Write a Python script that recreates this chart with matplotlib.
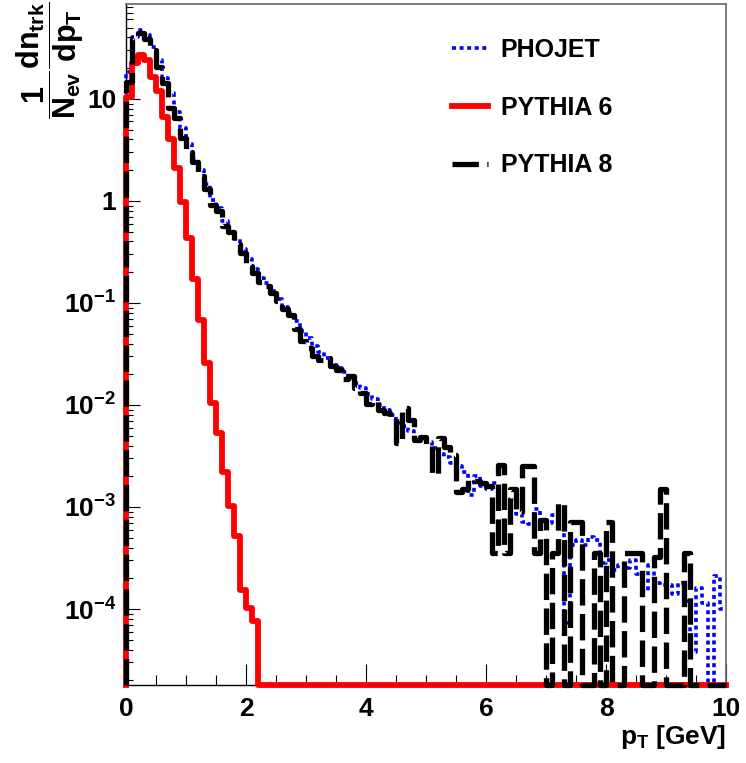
import numpy as np
import matplotlib
matplotlib.use("Agg")
import matplotlib.pyplot as plt
from matplotlib.ticker import NullFormatter, MultipleLocator

plt.rcParams['font.family'] = ['Liberation Sans', 'DejaVu Sans']
plt.rcParams['font.weight'] = 'bold'
plt.rcParams['mathtext.fontset'] = 'custom'
plt.rcParams['mathtext.rm'] = 'Liberation Sans:bold'
plt.rcParams['mathtext.it'] = 'Liberation Sans:bold'
plt.rcParams['mathtext.bf'] = 'Liberation Sans:bold'
plt.rcParams['mathtext.sf'] = 'Liberation Sans:bold'

# 100 bins of 0.1 GeV from 0 to 10
bin_edges = np.linspace(0, 10, 101)

phojet = [
    18.4, 40, 47, 42, 32, 24, 16, 11.5, 7.5, 5.2,
    3.6, 2.6, 2.0, 1.45, 1.02, 0.85, 0.64, 0.52, 0.42, 0.34,
    0.27, 0.215, 0.175, 0.155, 0.13, 0.11, 0.092, 0.079, 0.066, 0.053,
    0.045, 0.038, 0.033, 0.029, 0.026, 0.023, 0.021, 0.0185, 0.0165, 0.0145,
    0.0128, 0.0115, 0.0100, 0.0090, 0.0080, 0.0066, 0.0062, 0.0055, 0.0046, 0.0044,
    0.0043, 0.0038, 0.0033, 0.0031, 0.0027, 0.0025, 0.0022, 0.0013, 0.0020, 0.0016,
    0.0015, 0.0017, 0.0013, 0.0011, 0.0012, 0.00085, 0.00072, 0.00068, 0.00095, 0.00075,
    0.0007, 0.00083, 0.0009, 0.000073, 0.00042, 0.00047, 0.00042, 0.00051, 0.00047, 0.00028,
    0.0003, 0.00024, 0.00027, 0.00025, 0.0003, 0.00022, 0.00015, 0.00027, 0.00018, 0.00017,
    0.00017, 0.00014, 0.00018, 0.00012, 0.000038, 0.00016, 0.000115, 0.0, 0.00021, 0.0001,
]

pythia6 = [
    10.5, 22.5, 27, 24, 16.4, 11.8, 6.7, 4.0, 2.1, 0.98,
    0.43, 0.17, 0.068, 0.026, 0.0105, 0.0053, 0.0022, 0.00102, 0.00052, 0.000153,
    0.000102, 0.000076, 0, 0, 0, 0, 0, 0, 0, 0,
    0, 0, 0, 0, 0, 0, 0, 0, 0, 0,
    0, 0, 0, 0, 0, 0, 0, 0, 0, 0,
    0, 0, 0, 0, 0, 0, 0, 0, 0, 0,
    0, 0, 0, 0, 0, 0, 0, 0, 0, 0,
    0, 0, 0, 0, 0, 0, 0, 0, 0, 0,
    0, 0, 0, 0, 0, 0, 0, 0, 0, 0,
    0, 0, 0, 0, 0, 0, 0, 0, 0, 0,
]

pythia8 = [
    14.7, 39.6, 44.4, 38.7, 30.2, 20.7, 14.3, 8.2, 6.5, 4.15,
    3.0, 2.4, 1.76, 1.31, 0.91, 0.80, 0.57, 0.50, 0.38, 0.31,
    0.23, 0.197, 0.16, 0.146, 0.126, 0.105, 0.087, 0.076, 0.055, 0.042,
    0.036, 0.030, 0.0276, 0.029, 0.024, 0.022, 0.018, 0.019, 0.0145, 0.013,
    0.0102, 0.011, 0.0090, 0.0083, 0.0075, 0.0042, 0.0093, 0.0071, 0.0045, 0.0049,
    0.0041, 0.0021, 0.0047, 0.0039, 0.0032, 0.0014, 0.0015, 0.0019, 0.0018, 0.0017,
    0.0016, 0.00035, 0.0026, 0.00035, 0.0015, 0.0009, 0.0025, 0.0025, 0.00035, 0.00075,
    0, 0.00035, 0.0011, 0, 0.00072, 0.00072, 0, 0, 0.00035, 0,
    0.00072, 0, 0, 0.00035, 0.00035, 0.00035, 0, 0, 0.00032, 0.0015,
    0, 0, 0, 0.00035, 0, 0, 0, 0, 0, 0,
]

labels = ["PHOJET", "PYTHIA 6", "PYTHIA 8"]

ymin, ymax = 1.8e-5, 85


def step_xy(vals):
    # ROOT-like outline: rise from the frame bottom at x=0, empty bins at the bottom
    v = np.asarray(vals, dtype=float)
    v = np.where(v > 0, v, ymin)
    x = np.concatenate([[bin_edges[0]], bin_edges])
    y = np.concatenate([[ymin], v, [v[-1]]])
    return x, y


fig = plt.figure(figsize=(7.46, 7.63), dpi=100)
ax = fig.add_axes([126 / 746, 1 - 685 / 763, 600 / 746, 681 / 763])

x, y = step_xy(phojet)
ax.plot(x, y, drawstyle='steps-post', color='#0000ff', lw=2.6,
        dashes=(1.1, 1.0), dash_capstyle='butt', clip_on=False, zorder=3, label=labels[0])
x, y = step_xy(pythia6)
ax.plot(x, y, drawstyle='steps-post', color='#ff0000', lw=4.2,
        clip_on=False, zorder=4, label=labels[1])
x, y = step_xy(pythia8)
ax.plot(x, y, drawstyle='steps-post', color='black', lw=3.8,
        dashes=(5.0, 1.6), clip_on=False, zorder=5, label=labels[2])

ax.set_yscale('log')
ax.set_xlim(0, 10)
ax.set_ylim(ymin, ymax)

ax.set_xticks([0, 2, 4, 6, 8, 10])
ax.xaxis.set_minor_locator(MultipleLocator(0.5))
ax.set_yticks([1e-4, 1e-3, 1e-2, 1e-1, 1, 10])
ax.set_yticklabels([r'$10^{-4}$', r'$10^{-3}$', r'$10^{-2}$', r'$10^{-1}$', '1', '10'])
ax.yaxis.set_minor_formatter(NullFormatter())

ax.tick_params(axis='both', which='both', direction='in', top=False, right=False,
               width=0.8, labelsize=19)
ax.tick_params(axis='x', which='major', length=15, pad=9)
ax.tick_params(axis='x', which='minor', length=7)
ax.tick_params(axis='y', which='major', length=10, pad=7)
ax.tick_params(axis='y', which='minor', length=5)
for lab in ax.get_xticklabels() + ax.get_yticklabels():
    lab.set_fontweight('bold')

for side in ['left', 'bottom']:
    ax.spines[side].set_linewidth(1.0)
for side in ['top', 'right']:
    ax.spines[side].set_linewidth(1.2)
    ax.spines[side].set_color('0.4')

leg = ax.legend(loc='upper left', bbox_to_anchor=(452 / 746, 1 - 38 / 763),
                bbox_transform=fig.transFigure, frameon=False, fontsize=18,
                handlelength=1.45, handletextpad=0.5, labelspacing=1.35,
                borderpad=0, borderaxespad=0)
for t in leg.get_texts():
    t.set_fontweight('bold')

fig.text(50 / 746, 1 - 60 / 763, r'$\dfrac{1}{N_{ev}}\dfrac{dn_{trk}}{dp_{T}}$',
         rotation=90, ha='center', va='center', fontsize=22)
fig.text(726 / 746, 1 - 737 / 763, r'$p_{T}$ [GeV]', ha='right', va='center',
         fontsize=19, fontweight='bold')

fig.savefig('out.png', dpi=100)
